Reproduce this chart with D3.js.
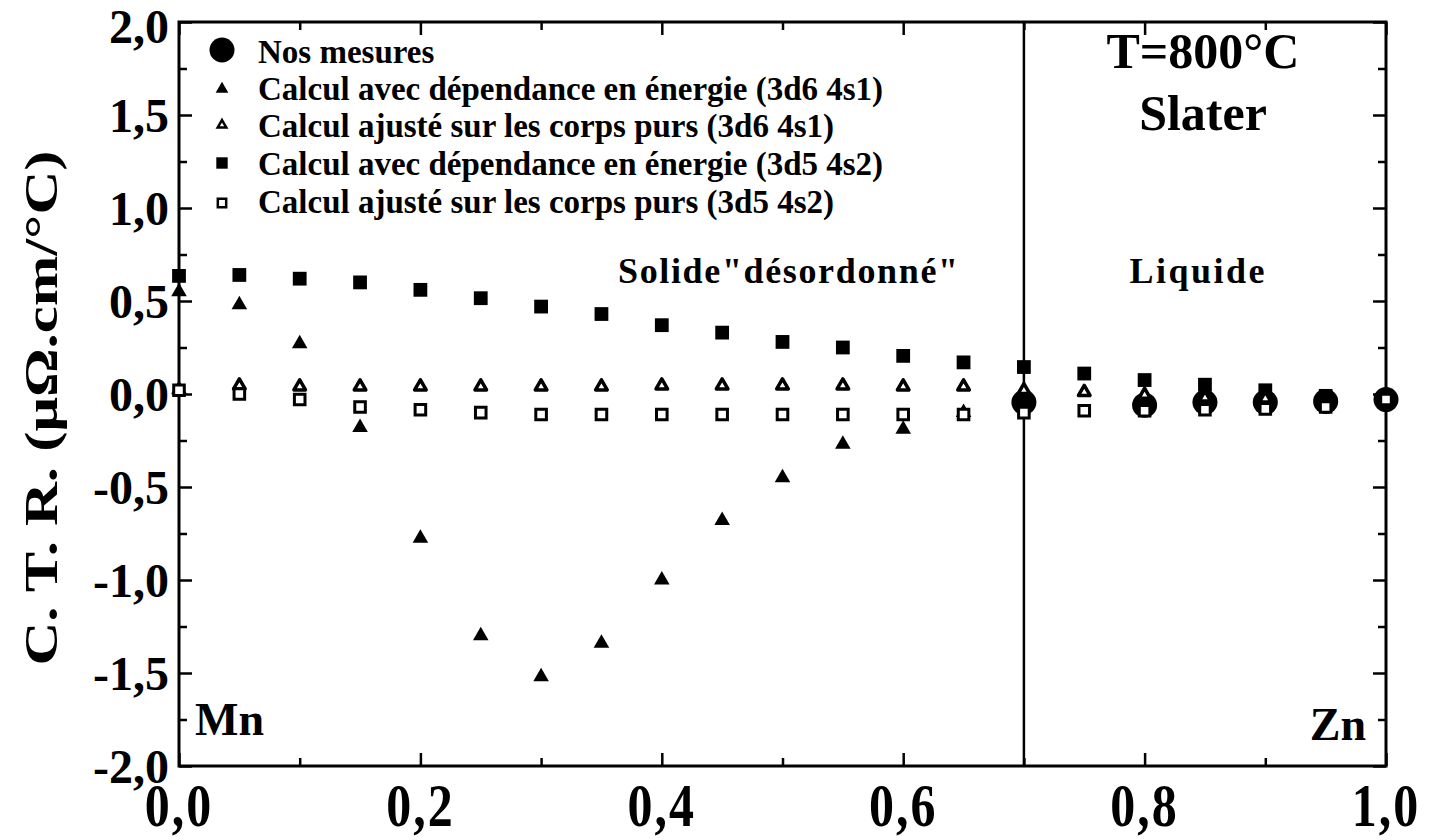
<!DOCTYPE html>
<html>
<head>
<meta charset="utf-8">
<script src="https://cdn.jsdelivr.net/npm/d3@7"></script>
<style>
  body { margin: 0; background: #fff; }
  svg { display: block; }
  text { font-family: "Liberation Serif", "Times New Roman", serif; font-weight: bold; fill: #000; }
</style>
</head>
<body>
<svg id="chart" width="1438" height="840"></svg>
<script>
// Composition (fraction of Zn) for the calculated series
const xCalc = [0, 0.05, 0.1, 0.15, 0.2, 0.25, 0.3, 0.35, 0.4, 0.45, 0.5,
               0.55, 0.6, 0.65, 0.7, 0.75, 0.8, 0.85, 0.9, 0.95, 1.0];

// Calcul avec dépendance en énergie (3d5 4s2) – filled squares
const energy3d5 = [0.635, 0.64, 0.62, 0.60, 0.56, 0.515, 0.47, 0.43, 0.37, 0.33,
                   0.28, 0.25, 0.205, 0.17, 0.145, 0.11, 0.075, 0.05, 0.02, -0.01];
// Calcul avec dépendance en énergie (3d6 4s1) – filled triangles
const energy3d6 = [0.55, 0.48, 0.27, -0.18, -0.775, -1.30, -1.52, -1.34, -1.00, -0.68,
                   -0.45, -0.27, -0.19, -0.10];
// Calcul ajusté sur les corps purs (3d6 4s1) – open triangles
const fitted3d6 = [0.02, 0.045, 0.04, 0.04, 0.04, 0.04, 0.04, 0.04, 0.045, 0.045,
                   0.045, 0.045, 0.04, 0.04, 0.02, 0.01, -0.005, -0.02, -0.025];
// Calcul ajusté sur les corps purs (3d5 4s2) – open squares
const fitted3d5 = [0.02, 0.0, -0.03, -0.07, -0.085, -0.10, -0.11, -0.11, -0.11, -0.11,
                   -0.11, -0.11, -0.11, -0.11, -0.10, -0.09, -0.09, -0.085, -0.08, -0.07, -0.03];
// Nos mesures (liquid alloys) – large filled circles
const xMeasured = [0.7, 0.8, 0.85, 0.9, 0.95, 1.0];
const measured  = [-0.045, -0.06, -0.045, -0.045, -0.04, -0.03];

// Axis ticks and labels
const xMajorTicks = [0, 0.2, 0.4, 0.6, 0.8, 1.0];
const xMinorTicks = [0.1, 0.3, 0.5, 0.7, 0.9];
const yMajorTicks = [-2, -1.5, -1, -0.5, 0, 0.5, 1, 1.5, 2];
const yMinorTicks = [-1.75, -1.25, -0.75, -0.25, 0.25, 0.75, 1.25, 1.75];
const liquidusX = 0.7;

const legendLabels = [
  "Nos mesures",
  "Calcul avec dépendance en énergie (3d6 4s1)",
  "Calcul ajusté sur les corps purs (3d6 4s1)",
  "Calcul avec dépendance en énergie (3d5 4s2)",
  "Calcul ajusté sur les corps purs (3d5 4s2)"
];

const svg = d3.select("#chart");
const plotLeft = 179, plotRight = 1386, plotTop = 22, plotBottom = 766;

const x = d3.scaleLinear().domain([0, 1]).range([plotLeft, plotRight]);
const y = d3.scaleLinear().domain([-2, 2]).range([plotBottom, plotTop]);

// French number format: decimal comma, plain hyphen for negatives
const fr = d3.formatLocale({ decimal: ",", thousands: " ", grouping: [3], currency: ["", "€"], minus: "-" });
const fmt = fr.format(".1f");

// Inward ticks on all four sides
function ticks(axis, values, size, transform) {
  svg.append("g").attr("transform", transform)
    .call(axis.tickValues(values).tickSizeInner(-size).tickSizeOuter(0).tickFormat(""))
    .call(g => g.select(".domain").remove())
    .call(g => g.selectAll("line").attr("stroke", "#000").attr("stroke-width", 2.5));
}
ticks(d3.axisBottom(x), xMajorTicks, 13, `translate(0,${plotBottom})`);
ticks(d3.axisBottom(x), xMinorTicks, 8, `translate(0,${plotBottom})`);
ticks(d3.axisTop(x), xMajorTicks, 13, `translate(0,${plotTop})`);
ticks(d3.axisTop(x), xMinorTicks, 8, `translate(0,${plotTop})`);
ticks(d3.axisLeft(y), yMajorTicks, 13, `translate(${plotLeft},0)`);
ticks(d3.axisLeft(y), yMinorTicks, 8, `translate(${plotLeft},0)`);
ticks(d3.axisRight(y), yMajorTicks, 13, `translate(${plotRight},0)`);
ticks(d3.axisRight(y), yMinorTicks, 8, `translate(${plotRight},0)`);

// Frame and solid/liquid boundary
svg.append("rect").attr("x", plotLeft).attr("y", plotTop)
  .attr("width", plotRight - plotLeft).attr("height", plotBottom - plotTop)
  .attr("fill", "none").attr("stroke", "#000").attr("stroke-width", 3);
svg.append("line").attr("x1", x(liquidusX)).attr("x2", x(liquidusX))
  .attr("y1", plotTop).attr("y2", plotBottom).attr("stroke", "#000").attr("stroke-width", 2.5);

// Tick labels (x labels are tall and narrow)
svg.append("g").selectAll("text").data(xMajorTicks).join("text")
  .attr("transform", d => `translate(${x(d)},826) scale(1,1.22)`)
  .attr("text-anchor", "middle").attr("font-size", 50).attr("letter-spacing", 2)
  .text(d => fmt(d));
svg.append("g").selectAll("text").data(yMajorTicks).join("text")
  .attr("x", 169).attr("y", d => Math.max(y(d) + 17, 43))
  .attr("text-anchor", "end").attr("font-size", 48)
  .text(d => fmt(d));

// Axis title
svg.append("text")
  .attr("transform", "translate(57,408) rotate(-90)")
  .attr("text-anchor", "middle").attr("font-size", 46)
  .attr("textLength", 515).attr("lengthAdjust", "spacingAndGlyphs")
  .text("C. T. R. (μΩ.cm/°C)");

// Markers
const triFilled = d3.symbol(d3.symbolTriangle, 105)();
const triOpen = d3.symbol(d3.symbolTriangle, 58)();
const sqFilled = d3.symbol(d3.symbolSquare, 190)();
const sqOpen = d3.symbol(d3.symbolSquare, 112)();

const marks = svg.append("g");
marks.selectAll("circle.mes").data(measured).join("circle")
  .attr("cx", (d, i) => x(xMeasured[i])).attr("cy", d => y(d)).attr("r", 12.5).attr("fill", "#000");

marks.append("g").selectAll("path").data(energy3d6).join("path")
  .attr("d", triFilled).attr("fill", "#000")
  .attr("transform", (d, i) => `translate(${x(xCalc[i])},${y(d)})`);
marks.append("g").selectAll("path").data(energy3d5).join("path")
  .attr("d", sqFilled).attr("fill", "#000")
  .attr("transform", (d, i) => `translate(${x(xCalc[i])},${y(d)})`);
marks.append("g").selectAll("path").data(fitted3d6).join("path")
  .attr("d", triOpen).attr("fill", "#fff").attr("stroke", "#000").attr("stroke-width", 3.5)
  .attr("stroke-linejoin", "round")
  .attr("transform", (d, i) => `translate(${x(xCalc[i])},${y(d)})`);
marks.append("g").selectAll("path").data(fitted3d5).join("path")
  .attr("d", sqOpen).attr("fill", "#fff").attr("stroke", "#000").attr("stroke-width", 3)
  .attr("transform", (d, i) => `translate(${x(xCalc[i])},${y(d)})`);

// Legend
const legendRows = [50, 89, 125, 163, 203];
const legendBaselines = [63, 100, 137, 175, 213];
const legendMarkers = [
  sel => sel.append("circle").attr("r", 12.5).attr("fill", "#000"),
  sel => sel.append("path").attr("d", d3.symbol(d3.symbolTriangle, 70)()).attr("fill", "#000"),
  sel => sel.append("path").attr("d", d3.symbol(d3.symbolTriangle, 32)()).attr("fill", "#fff").attr("stroke", "#000").attr("stroke-width", 2.5),
  sel => sel.append("path").attr("d", d3.symbol(d3.symbolSquare, 130)()).attr("fill", "#000"),
  sel => sel.append("path").attr("d", d3.symbol(d3.symbolSquare, 70)()).attr("fill", "#fff").attr("stroke", "#000").attr("stroke-width", 2.5)
];
legendLabels.forEach((label, i) => {
  const row = svg.append("g").attr("transform", `translate(222,${legendRows[i]})`);
  legendMarkers[i](row);
  row.append("text").attr("x", 36).attr("y", legendBaselines[i] - legendRows[i])
    .attr("font-size", 33).text(label);
});

// Annotations
svg.append("text").attr("x", 1203).attr("y", 68).attr("text-anchor", "middle").attr("font-size", 50).text("T=800°C");
svg.append("text").attr("x", 1203).attr("y", 130).attr("text-anchor", "middle").attr("font-size", 50).text("Slater");
svg.append("text").attr("x", 1197).attr("y", 283).attr("text-anchor", "middle").attr("font-size", 36)
  .attr("textLength", 135).attr("lengthAdjust", "spacing").text("Liquide");
svg.append("text").attr("x", 788).attr("y", 283).attr("text-anchor", "middle").attr("font-size", 36)
  .attr("textLength", 340).attr("lengthAdjust", "spacing").text("Solide\"désordonné\"");
svg.append("text").attr("x", 195).attr("y", 735).attr("font-size", 46).text("Mn");
svg.append("text").attr("x", 1366).attr("y", 740).attr("text-anchor", "end").attr("font-size", 46).text("Zn");
</script>
</body>
</html>
